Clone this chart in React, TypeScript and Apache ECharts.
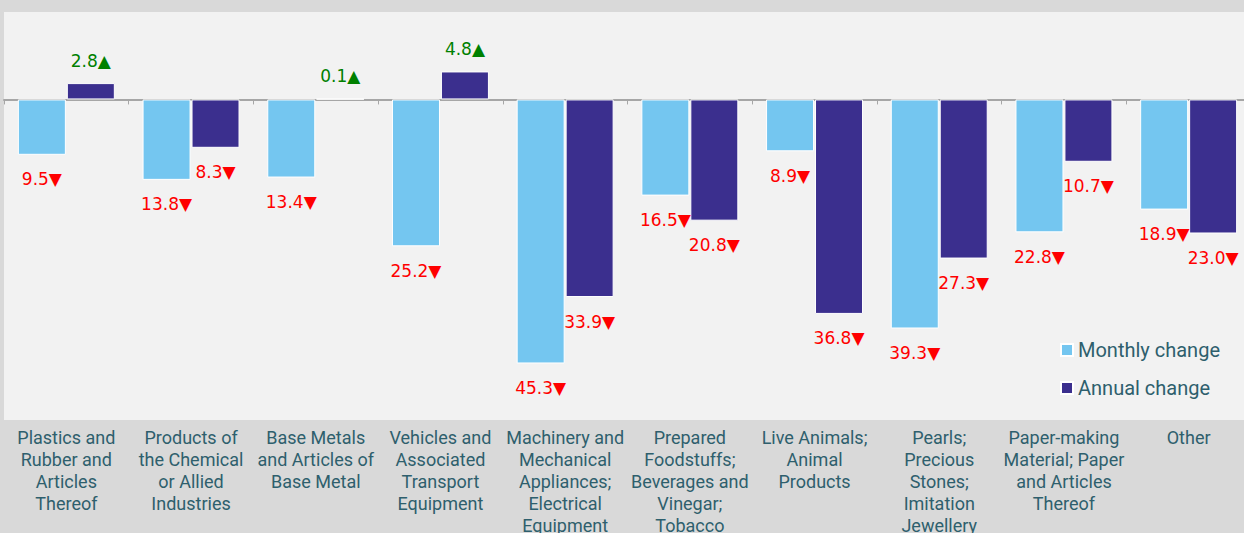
import React, { useEffect, useRef } from "react";
import * as echarts from "echarts";

const categories = [
  "Plastics and\nRubber and\nArticles\nThereof",
  "Products of\nthe Chemical\nor Allied\nIndustries",
  "Base Metals\nand Articles of\nBase Metal",
  "Vehicles and\nAssociated\nTransport\nEquipment",
  "Machinery and\nMechanical\nAppliances;\nElectrical\nEquipment",
  "Prepared\nFoodstuffs;\nBeverages and\nVinegar;\nTobacco",
  "Live Animals;\nAnimal\nProducts",
  "Pearls;\nPrecious\nStones;\nImitation\nJewellery",
  "Paper-making\nMaterial; Paper\nand Articles\nThereof",
  "Other",
];
const monthlyChange = [-9.5, -13.8, -13.4, -25.2, -45.3, -16.5, -8.9, -39.3, -22.8, -18.9];
const annualChange = [2.8, -8.3, 0.1, 4.8, -33.9, -20.8, -36.8, -27.3, -10.7, -23.0];

const MONTHLY_COLOR = "#74c6f0";
const ANNUAL_COLOR = "#3b2f8e";
const TEXT_COLOR = "#2e5f6d";

function toData(values: number[]) {
  return values.map((v) => ({
    value: v,
    label: {
      position: v < 0 ? "bottom" : "top",
      distance: v < 0 ? 16 : 14,
      color: v < 0 ? "#ff0000" : "#008000",
    },
  }));
}

export default function App() {
  const ref = useRef<HTMLDivElement>(null);
  useEffect(() => {
    if (!ref.current) return;
    const chart = echarts.init(ref.current, null, { renderer: "svg" });
    const label = {
      show: true,
      fontFamily: "DejaVu Sans",
      fontSize: 17,
      formatter: (p: any) => {
        const v = p.value as number;
        return Math.abs(v).toFixed(1) + (v < 0 ? "▼" : "▲");
      },
    };
    chart.setOption({
      animation: false,
      backgroundColor: "#d9d9d9",
      grid: {
        left: 4,
        right: -7,
        top: 12,
        bottom: 113,
        show: true,
        backgroundColor: "#f2f2f2",
        borderWidth: 0,
        containLabel: false,
        outerBoundsMode: "none",
      },
      legend: {
        orient: "vertical",
        left: 1055,
        top: 335,
        itemWidth: 12,
        itemHeight: 12,
        itemGap: 18,
        icon: "rect",
        textStyle: { color: TEXT_COLOR, fontSize: 20, fontFamily: "Roboto" },
        data: ["Monthly change", "Annual change"],
      },
      xAxis: [
        {
          type: "category",
          data: categories,
          position: "bottom",
          axisLine: { show: false, onZero: false },
          axisTick: { show: false },
          axisLabel: {
            interval: 0,
            margin: 6,
            color: TEXT_COLOR,
            fontSize: 18,
            lineHeight: 22,
            fontFamily: "Roboto",
            align: "center",
          },
        },
        {
          type: "category",
          data: categories,
          position: "bottom",
          axisLine: { show: true, onZero: true, lineStyle: { color: "#a6a6a6", width: 2 } },
          axisTick: { show: true, length: 5, lineStyle: { color: "#a6a6a6", width: 1 } },
          axisLabel: { show: false },
        },
      ],
      yAxis: {
        type: "value",
        min: -55,
        max: 15,
        show: false,
        splitLine: { show: false },
      },
      series: [
        {
          name: "Monthly change",
          type: "bar",
          xAxisIndex: 0,
          data: toData(monthlyChange),
          barWidth: 48,
          barGap: "2%",
          itemStyle: { color: MONTHLY_COLOR, borderColor: "#ffffff", borderWidth: 1 },
          label,
        },
        {
          name: "Annual change",
          type: "bar",
          xAxisIndex: 0,
          data: toData(annualChange),
          barWidth: 48,
          barGap: "2%",
          itemStyle: { color: ANNUAL_COLOR, borderColor: "#ffffff", borderWidth: 1 },
          label,
        },
      ],
    });
    return () => chart.dispose();
  }, []);
  return (
    <div
      ref={ref}
      style={{ position: "fixed", left: 0, top: 0, width: 1244, height: 533 }}
    />
  );
}
